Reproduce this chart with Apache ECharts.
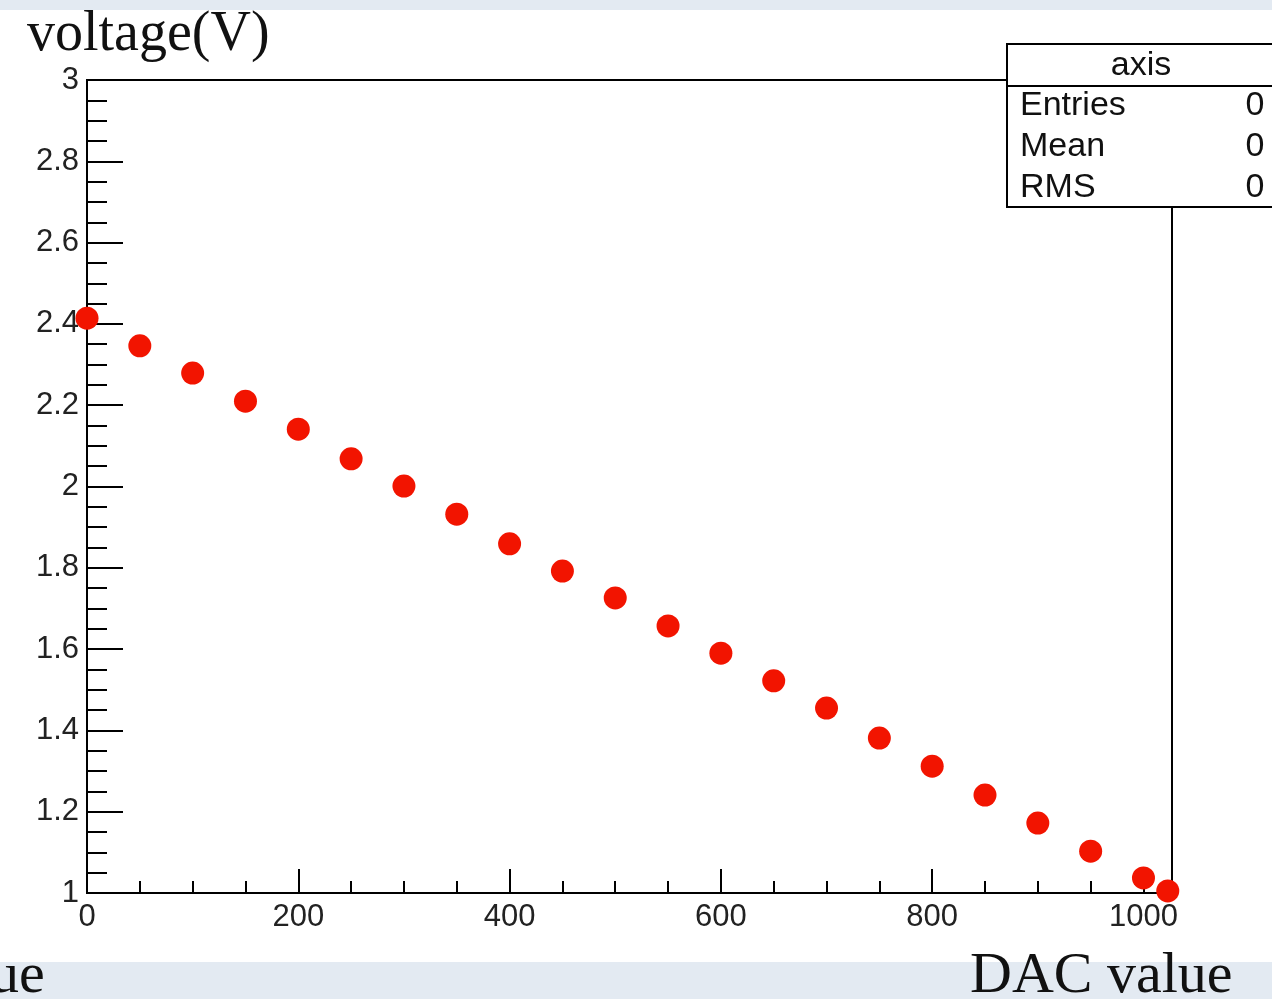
<!DOCTYPE html>
<html>
<head>
<meta charset="utf-8">
<script src="https://cdn.jsdelivr.net/npm/echarts@6/dist/echarts.min.js"></script>
<style>
html, body { margin: 0; padding: 0; background: #e3eaf2; }
#main { width: 1272px; height: 999px; }
</style>
</head>
<body>
<div id="main"></div>
<script>
// DAC setting and the measured voltage
var dacValues = [0, 50, 100, 150, 200, 250, 300, 350, 400, 450, 500, 550, 600, 650, 700, 750, 800, 850, 900, 950, 1000, 1023];
var voltages = [2.414, 2.346, 2.279, 2.210, 2.141, 2.068, 2.001, 1.932, 1.859, 1.792, 1.726, 1.657, 1.590, 1.522, 1.455, 1.381, 1.312, 1.241, 1.172, 1.103, 1.037, 1.005];
var xMajorTicks = [0, 200, 400, 600, 800, 1000];
var statRows = [['Entries', '0'], ['Mean', '0'], ['RMS', '0']];

var xMinorTicks = [];
for (var v = 50; v < 1027; v += 50) {
    if (xMajorTicks.indexOf(v) < 0) xMinorTicks.push(v);
}

var points = dacValues.map(function (d, i) { return [d, voltages[i]]; });

var labelFont = { color: '#222', fontSize: 31, fontFamily: 'Liberation Sans' };
var statFont = '34px "Liberation Sans"';

var statGraphics = [
    { type: 'rect', shape: { x: 1007, y: 44, width: 290, height: 163 },
      style: { fill: '#fff', stroke: '#000', lineWidth: 2 }, z: 10 },
    { type: 'line', shape: { x1: 1007, y1: 86, x2: 1280, y2: 86 },
      style: { stroke: '#000', lineWidth: 2 }, z: 11 },
    { type: 'text', x: 1141, y: 66, z: 11,
      style: { text: 'axis', fill: '#111', font: statFont, align: 'center', verticalAlign: 'middle' } }
];
statRows.forEach(function (r, i) {
    var y = 106 + i * 41;
    statGraphics.push({ type: 'text', x: 1020, y: y, z: 11,
        style: { text: r[0], fill: '#111', font: statFont, verticalAlign: 'middle' } });
    statGraphics.push({ type: 'text', x: 1255, y: y, z: 11,
        style: { text: r[1], fill: '#111', font: statFont, align: 'center', verticalAlign: 'middle' } });
});

var option = {
    backgroundColor: '#e3eaf2',
    animation: false,
    grid: {
        left: 87, top: 80, right: 100, bottom: 106,
        show: true, backgroundColor: 'transparent', borderColor: '#000', borderWidth: 2
    },
    xAxis: [{
        type: 'value', min: 0, max: 1027,
        axisLine: { show: true, onZero: false, lineStyle: { color: '#000', width: 2 } },
        axisTick: { inside: true, length: 24, customValues: xMajorTicks, lineStyle: { color: '#000', width: 2 } },
        axisLabel: Object.assign({ margin: 9, customValues: xMajorTicks, formatter: function (v) { return String(v); } }, labelFont),
        splitLine: { show: false }
    }, {
        type: 'value', min: 0, max: 1027, position: 'bottom',
        axisLine: { show: false },
        axisTick: { inside: true, length: 12, customValues: xMinorTicks, lineStyle: { color: '#000', width: 2 } },
        axisLabel: { show: false },
        splitLine: { show: false }
    }],
    yAxis: {
        type: 'value', min: 1, max: 3, interval: 0.2,
        axisLine: { show: true, onZero: false, lineStyle: { color: '#000', width: 2 } },
        axisTick: { inside: true, length: 36, lineStyle: { color: '#000', width: 2 } },
        minorTick: { show: true, splitNumber: 4, length: 20, lineStyle: { color: '#000', width: 2 } },
        axisLabel: Object.assign({ margin: 8 }, labelFont),
        splitLine: { show: false }
    },
    graphic: [
        { type: 'rect', shape: { x: 0, y: 10, width: 1272, height: 952 }, style: { fill: '#fff' }, z: -10, silent: true },
        { type: 'text', left: 27, top: 7, z: 5,
          style: { text: 'voltage(V)', fill: '#111', font: '56px "Liberation Serif"' } },
        { type: 'text', left: 970, top: 948, z: 5,
          style: { text: 'DAC value', fill: '#111', font: '58px "Liberation Serif"' } },
        { type: 'text', left: -10, top: 948, z: 5,
          style: { text: 'ue', fill: '#111', font: '58px "Liberation Serif"' } }
    ].concat(statGraphics),
    series: [{
        type: 'scatter',
        xAxisIndex: 0,
        data: points,
        symbol: 'circle',
        symbolSize: 23,
        itemStyle: { color: '#f21400', opacity: 1 },
        z: 5
    }]
};

echarts.init(document.getElementById('main')).setOption(option);
</script>
</body>
</html>
